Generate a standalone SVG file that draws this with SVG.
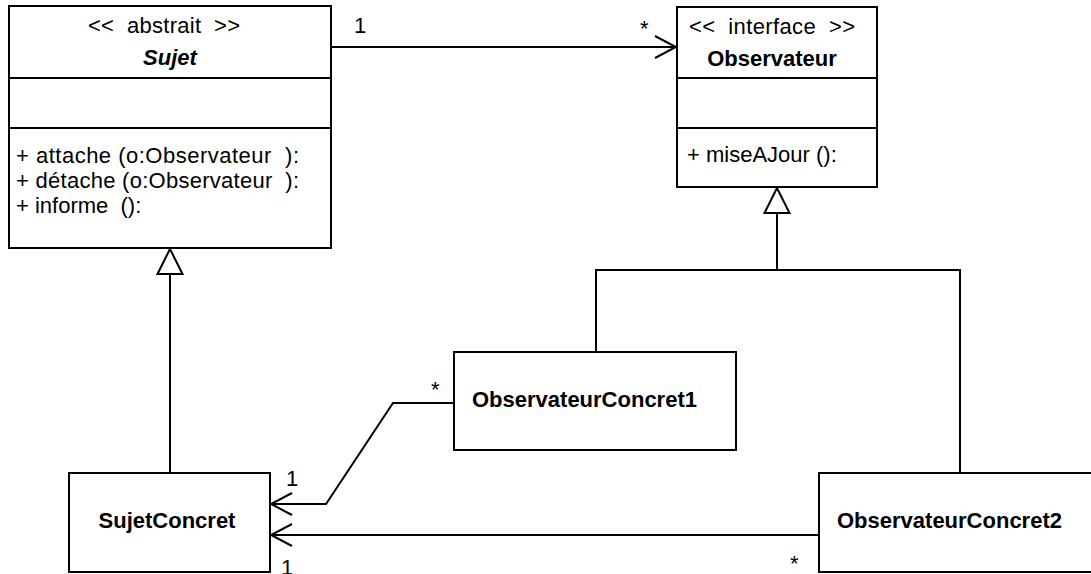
<svg xmlns="http://www.w3.org/2000/svg" width="1091" height="574" viewBox="0 0 1091 574">
<style>
.box{fill:#fff;stroke:#000;stroke-width:2}
.ln{fill:none;stroke:#000;stroke-width:2}
text{font-family:"Liberation Sans",Arial,sans-serif;font-size:22px;fill:#000;white-space:pre}
.b{font-weight:bold}
.bi{font-weight:bold;font-style:italic}
.m{text-anchor:middle}
</style>
<defs>
<marker id="open" viewBox="0 0 24 24" refX="22" refY="12" markerWidth="24" markerHeight="24" markerUnits="userSpaceOnUse" orient="auto">
<path d="M1,1 L22,12 L1,23" fill="none" stroke="#000" stroke-width="2"/>
</marker>
<marker id="tri" viewBox="0 0 28 28" refX="26" refY="14" markerWidth="28" markerHeight="28" markerUnits="userSpaceOnUse" orient="auto">
<path d="M1,1.5 L26,14 L1,26.5 Z" fill="#fff" stroke="#000" stroke-width="2"/>
</marker>
</defs>
<g id="connectors">
<path class="ln" d="M331,47 H676" marker-end="url(#open)"/>
<path class="ln" d="M170,473 V249" marker-end="url(#tri)"/>
<path class="ln" d="M777,270 V188" marker-end="url(#tri)"/>
<path class="ln" d="M596,351 V270 H960 V473"/>
<path class="ln" d="M777,270 H797" stroke-width="3"/>
<path class="ln" d="M454,403 H393 L326,504 H271" marker-end="url(#open)"/>
<path class="ln" d="M819,535 H271" marker-end="url(#open)"/>
<text x="354" y="33">1</text>
<text x="640" y="36">*</text>
<text x="431" y="397">*</text>
<text x="286" y="486">1</text>
<text x="281" y="575">1</text>
<text x="790" y="571">*</text>
</g>
<g id="Sujet">
<rect class="box" x="9" y="6" width="322" height="242"/>
<path class="ln" d="M9,78 H331 M9,128 H331"/>
<text x="88" y="33" textLength="152" lengthAdjust="spacing">&lt;&lt;  abstrait  &gt;&gt;</text>
<text class="bi m" x="170" y="65">Sujet</text>
<text x="16" y="163" textLength="283" lengthAdjust="spacing">+ attache (o:Observateur  ):</text>
<text x="16" y="188" textLength="283" lengthAdjust="spacing">+ détache (o:Observateur  ):</text>
<text x="16" y="213">+ informe  ():</text>
</g>
<g id="Observateur">
<rect class="box" x="677" y="7" width="200" height="180"/>
<path class="ln" d="M677,78 H877 M677,128 H877"/>
<text x="689" y="34" textLength="166" lengthAdjust="spacing">&lt;&lt;  interface  &gt;&gt;</text>
<text class="b m" x="772" y="66">Observateur</text>
<text x="687" y="162">+ miseAJour ():</text>
</g>
<g id="ObservateurConcret1">
<rect class="box" x="454" y="352" width="282" height="98"/>
<text class="b" x="472" y="407">ObservateurConcret1</text>
</g>
<g id="SujetConcret">
<rect class="box" x="69" y="473" width="201" height="99"/>
<text class="b m" x="167" y="528">SujetConcret</text>
</g>
<g id="ObservateurConcret2">
<rect class="box" x="819" y="473" width="280" height="99"/>
<text class="b" x="837" y="528">ObservateurConcret2</text>
</g>
</svg>
